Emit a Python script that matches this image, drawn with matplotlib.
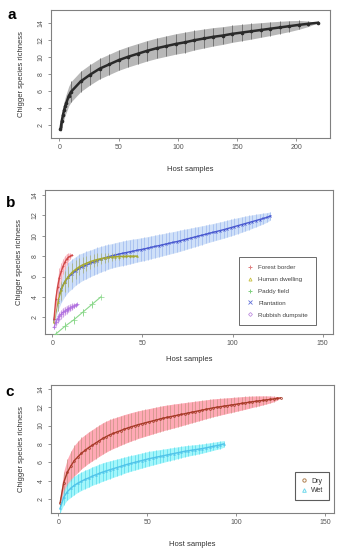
import matplotlib
matplotlib.use('Agg')
import matplotlib.pyplot as plt
from matplotlib.lines import Line2D
import numpy as np

plt.rcParams['font.family'] = ['Liberation Sans', 'DejaVu Sans']

# ---------------- Panel a: all hosts ----------------
a_x = [1, 2, 3, 4, 5, 6, 8, 10, 18, 26, 34, 42, 50, 58, 66, 74, 82, 90, 98, 106,
       114, 122, 130, 138, 146, 154, 162, 170, 178, 186, 194, 202, 210, 218]
a_mean = [1.5, 2.4, 3.1, 3.7, 4.2, 4.6, 5.4, 5.9, 7.1, 7.9, 8.6, 9.1, 9.6, 10.0, 10.35,
          10.7, 11.0, 11.25, 11.5, 11.7, 11.95, 12.15, 12.35, 12.5, 12.7, 12.85, 13.0,
          13.15, 13.3, 13.45, 13.6, 13.75, 13.88, 14.0]
a_sd = [0.4, 0.75, 0.9, 1.0, 1.05, 1.1, 1.15, 1.2, 1.2, 1.2, 1.2, 1.2, 1.2, 1.2, 1.2,
        1.2, 1.2, 1.2, 1.2, 1.2, 1.15, 1.12, 1.08, 1.04, 1.0, 0.96, 0.92, 0.86, 0.8,
        0.72, 0.64, 0.52, 0.32, 0.0]

# ---------------- Panel b: habitats ----------------
b_labels = ["Forest border", "Human dwelling", "Paddy field", "Plantation", "Rubbish dumpsite"]

fb_x = [1, 2, 3, 4, 5, 6, 7, 8, 9, 10, 11]
fb_mean = [1.8, 3.8, 5.0, 5.9, 6.5, 7.0, 7.4, 7.7, 7.9, 8.0, 8.1]
fb_sd = [0.3, 0.9, 1.0, 0.95, 0.85, 0.75, 0.65, 0.55, 0.4, 0.3, 0.0]

hd_x = [1, 3, 5, 7, 9, 11, 13, 15, 17, 19, 21, 23, 25, 27, 29, 31, 33, 35, 37, 39,
        41, 43, 45, 47]
hd_mean = [1.5, 3.5, 4.7, 5.5, 6.0, 6.4, 6.7, 6.95, 7.15, 7.3, 7.45, 7.57, 7.67, 7.75,
           7.82, 7.87, 7.91, 7.94, 7.96, 7.98, 7.99, 8.0, 8.0, 8.0]
hd_sd = [0.3, 0.9, 1.0, 1.0, 1.0, 0.95, 0.9, 0.85, 0.8, 0.75, 0.7, 0.65, 0.6, 0.55,
         0.5, 0.45, 0.4, 0.35, 0.3, 0.25, 0.2, 0.15, 0.1, 0.0]

pf_x = [2, 7, 12, 17, 22, 27]
pf_mean = [0.35, 1.1, 1.75, 2.5, 3.25, 4.0]
pf_sd = [0.2, 0.4, 0.4, 0.35, 0.3, 0.0]

pl_x = list(range(1, 122, 2))
pl_mean = [1.7, 3.7, 4.8, 5.5, 5.95, 6.25, 6.55, 6.8, 6.97, 7.13,
           7.28, 7.43, 7.57, 7.7, 7.82, 7.93, 8.03, 8.12, 8.2, 8.28,
           8.35, 8.43, 8.5, 8.57, 8.64, 8.71, 8.79, 8.87, 8.95, 9.03,
           9.11, 9.19, 9.27, 9.35, 9.43, 9.52, 9.61, 9.7, 9.79, 9.88,
           9.97, 10.06, 10.15, 10.24, 10.33, 10.42, 10.51, 10.6, 10.7, 10.8,
           10.9, 11.0, 11.1, 11.2, 11.3, 11.4, 11.5, 11.6, 11.7, 11.8,
           11.95]
pl_sd = [0.4, 1.1, 1.35, 1.45, 1.45, 1.45, 1.4, 1.4, 1.35, 1.35,
         1.3, 1.3, 1.28, 1.26, 1.24, 1.22, 1.2, 1.2, 1.2, 1.2,
         1.2, 1.2, 1.18, 1.16, 1.15, 1.14, 1.13, 1.12, 1.11, 1.1,
         1.09, 1.08, 1.07, 1.06, 1.05, 1.04, 1.02, 1.0, 0.98, 0.96,
         0.94, 0.92, 0.9, 0.88, 0.87, 0.86, 0.85, 0.84, 0.83, 0.82,
         0.8, 0.78, 0.76, 0.73, 0.7, 0.66, 0.62, 0.58, 0.53, 0.47,
         0.4]

rd_x = [1, 2, 3, 4, 5, 6, 7, 8, 9, 10, 11, 12, 13, 14]
rd_mean = [1.0, 1.5, 1.85, 2.1, 2.3, 2.5, 2.62, 2.75, 2.85, 2.95, 3.05, 3.12, 3.2, 3.25]
rd_sd = [0.2, 0.4, 0.45, 0.45, 0.45, 0.45, 0.42, 0.4, 0.38, 0.35, 0.3, 0.25, 0.15, 0.0]

# ---------------- Panel c: seasons ----------------
c_labels = ["Dry", "Wet"]
dry_x = list(range(1, 126, 2))
dry_mean = [1.6, 3.8, 4.9, 5.6, 6.2, 6.6, 7.0, 7.3, 7.6, 7.85,
            8.1, 8.35, 8.6, 8.8, 9.0, 9.15, 9.3, 9.45, 9.6, 9.73,
            9.86, 9.98, 10.1, 10.2, 10.3, 10.4, 10.5, 10.6, 10.7, 10.8,
            10.88, 10.96, 11.04, 11.12, 11.2, 11.28, 11.36, 11.44, 11.52, 11.6,
            11.68, 11.76, 11.84, 11.92, 11.98, 12.04, 12.1, 12.16, 12.22, 12.28,
            12.34, 12.4, 12.46, 12.52, 12.58, 12.63, 12.68, 12.73, 12.78, 12.83,
            12.88, 12.94, 13.0]
dry_sd = [0.6, 1.2, 1.45, 1.6, 1.65, 1.7, 1.7, 1.7, 1.7, 1.7,
          1.7, 1.7, 1.7, 1.68, 1.66, 1.64, 1.62, 1.6, 1.58, 1.56,
          1.54, 1.52, 1.5, 1.48, 1.46, 1.44, 1.42, 1.4, 1.38, 1.36,
          1.34, 1.32, 1.3, 1.27, 1.24, 1.21, 1.18, 1.15, 1.12, 1.09,
          1.06, 1.03, 1.0, 0.97, 0.94, 0.91, 0.88, 0.85, 0.82, 0.79,
          0.76, 0.73, 0.7, 0.66, 0.62, 0.58, 0.54, 0.49, 0.44, 0.38,
          0.3, 0.2, 0.0]
wet_x = list(range(1, 94, 2))
wet_mean = [1.0, 2.2, 2.8, 3.2, 3.5, 3.75, 3.95, 4.15, 4.3, 4.5,
            4.65, 4.8, 4.95, 5.08, 5.2, 5.32, 5.44, 5.56, 5.68, 5.8,
            5.9, 6.0, 6.1, 6.2, 6.3, 6.4, 6.48, 6.56, 6.64, 6.72,
            6.8, 6.88, 6.96, 7.04, 7.12, 7.2, 7.26, 7.32, 7.38, 7.44,
            7.5, 7.58, 7.66, 7.74, 7.82, 7.9, 8.0]
wet_sd = [0.5, 0.8, 0.9, 1.0, 1.0, 1.0, 1.0, 1.0, 1.0, 1.0,
          1.0, 1.0, 1.0, 0.98, 0.96, 0.94, 0.92, 0.9, 0.88, 0.86,
          0.85, 0.84, 0.83, 0.82, 0.81, 0.8, 0.78, 0.76, 0.74, 0.72,
          0.7, 0.68, 0.66, 0.64, 0.62, 0.6, 0.58, 0.56, 0.54, 0.52,
          0.5, 0.48, 0.46, 0.44, 0.42, 0.4, 0.36]

y_ticks = [2, 4, 6, 8, 10, 12, 14]

TICK_COL = '#555555'
SPINE_COL = '#808080'


def style(ax, xticks, xlim, ylim, ylab_x, xlab_y):
    ax.set_xlim(*xlim)
    ax.set_ylim(*ylim)
    ax.set_xticks(xticks)
    ax.set_yticks(y_ticks)
    for s in ax.spines.values():
        s.set_color(SPINE_COL)
        s.set_linewidth(0.8)
    ax.tick_params(length=2.5, width=0.6, colors=SPINE_COL, labelcolor=TICK_COL,
                   labelsize=5, pad=2)
    for lab in ax.get_yticklabels():
        lab.set_rotation(90)
        lab.set_va('center')
    ax.set_ylabel("Chigger species richness", fontsize=5.5, color='#333333')
    ax.set_xlabel("Host samples", fontsize=5.5, color='#333333')
    ax.yaxis.set_label_coords(ylab_x, 0.5)
    ax.xaxis.set_label_coords(0.5, xlab_y)


def series(ax, x, m, sd, band, bar, line, marker, ms, lw=1.0, band_alpha=1.0, bar_lw=0.5,
           mfc=None, z=2):
    x = np.asarray(x, float)
    m = np.asarray(m, float)
    sd = np.asarray(sd, float)
    lo, hi = m - sd, m + sd
    if band is not None:
        ax.fill_between(x, lo, hi, color=band, lw=0, alpha=band_alpha, zorder=z)
    ax.vlines(x, lo, hi, colors=bar, lw=bar_lw, zorder=z + 0.1)
    ax.plot(x, m, color=line, lw=lw, marker=marker, ms=ms,
            mfc=mfc if mfc is not None else line, mec=line, mew=0.5, zorder=z + 0.2)


fig = plt.figure(figsize=(3.44, 5.5), dpi=100)

# ---- a ----
axa = fig.add_axes([51 / 344, 1 - 138 / 550, (330 - 51) / 344, 128 / 550])
ax_arr = np.asarray(a_x)
mask = ((ax_arr - 2) % 8) == 0
axa.fill_between(a_x, np.subtract(a_mean, a_sd), np.add(a_mean, a_sd),
                 color='#b8b8b8', lw=0, zorder=2)
axa.vlines(ax_arr[mask], (np.subtract(a_mean, a_sd))[mask], (np.add(a_mean, a_sd))[mask],
           colors='#6a6a6a', lw=0.6, zorder=3)
axa.plot(a_x, a_mean, color='#2a2a2a', lw=1.8, marker='o', ms=1.6, zorder=4)
style(axa, [0, 50, 100, 150, 200], (-7.0, 228.3), (0.45, 15.5), -0.093, -0.22)
fig.text(12 / 344, 1 - 15 / 550, "a", fontsize=11, fontweight='bold', ha='center', va='center')

# ---- b ----
axb = fig.add_axes([45 / 344, 1 - 334 / 550, 288 / 344, 144 / 550])
series(axb, pl_x, pl_mean, pl_sd, '#cfe0f8', '#9db8ee', '#4a5ad0', 'x', 1.5, lw=1.0, z=2)
series(axb, hd_x, hd_mean, hd_sd, None, '#a8b070', '#a6a830', '^', 1.3, lw=1.1, z=3, mfc='none')
series(axb, fb_x, fb_mean, fb_sd, '#ffd0d8', '#f0a0a8', '#d04848', '+', 2.0, lw=1.0, z=4)
series(axb, pf_x, pf_mean, pf_sd, None, '#7cd07c', '#8ad88a', '+', 4.0, lw=0.8, z=4)
series(axb, rd_x, rd_mean, rd_sd, '#f2d6f4', '#b890e0', '#b070e0', '+', 3.0, lw=0.8, z=4)
style(axb, [0, 50, 100, 150], (-4.0, 155.7), (0.35, 14.5), -0.076, -0.152)
fig.text(11 / 344, 1 - 203 / 550, "b", fontsize=11, fontweight='bold', ha='center', va='center')

hb = [Line2D([], [], ls='none', marker='+', ms=3, color='#e08080', mew=0.7),
      Line2D([], [], ls='none', marker='^', ms=2.2, color='#c8c040', mfc='none', mew=0.6),
      Line2D([], [], ls='none', marker='+', ms=3, color='#80d080', mew=0.7),
      Line2D([], [], ls='none', marker='x', ms=2.2, color='#6070d8', mew=0.6),
      Line2D([], [], ls='none', marker='D', ms=2.0, color='#c090e0', mfc='none', mew=0.6)]
legb = axb.legend(hb, b_labels, loc='upper left', bbox_to_anchor=(0.674, 0.535),
                  fontsize=4.5, frameon=True, fancybox=False, borderpad=1.2,
                  labelspacing=1.05, handlelength=1.2, handletextpad=0.7,
                  borderaxespad=0)
legb.get_frame().set_edgecolor('#444444')
legb.get_frame().set_linewidth(0.7)
for t in legb.get_texts():
    t.set_color('#444444')

# ---- c ----
axc = fig.add_axes([50.7 / 344, 1 - 513 / 550, 283.3 / 344, 128 / 550])
series(axc, dry_x, dry_mean, dry_sd, '#ff8c9c', '#c89484', '#a83a28', 'o', 1.4, lw=1.0,
       band_alpha=0.75, z=2, mfc='none')
series(axc, wet_x, wet_mean, wet_sd, '#8cf4fa', '#58d8ea', '#50c4ea', '^', 1.3, lw=1.0,
       band_alpha=0.8, z=2, mfc='none')
style(axc, [0, 50, 100, 150], (-4.3, 155.0), (0.5, 14.4), -0.091, -0.216)
fig.text(10 / 344, 1 - 392 / 550, "c", fontsize=11, fontweight='bold', ha='center', va='center')

hc = [Line2D([], [], ls='none', marker='o', ms=2.4, color='#b08050', mfc='none', mew=0.7),
      Line2D([], [], ls='none', marker='^', ms=2.6, color='#70d8ec', mfc='none', mew=0.7)]
legc = axc.legend(hc, c_labels, loc='upper left', bbox_to_anchor=(0.862, 0.32),
                  fontsize=5, frameon=True, fancybox=False, borderpad=0.8,
                  labelspacing=0.4, handlelength=1.0, handletextpad=0.5,
                  borderaxespad=0)
legc.get_frame().set_edgecolor('#333333')
legc.get_frame().set_linewidth(0.8)
for t in legc.get_texts():
    t.set_color('#333333')

fig.savefig('out.png', dpi=100)
